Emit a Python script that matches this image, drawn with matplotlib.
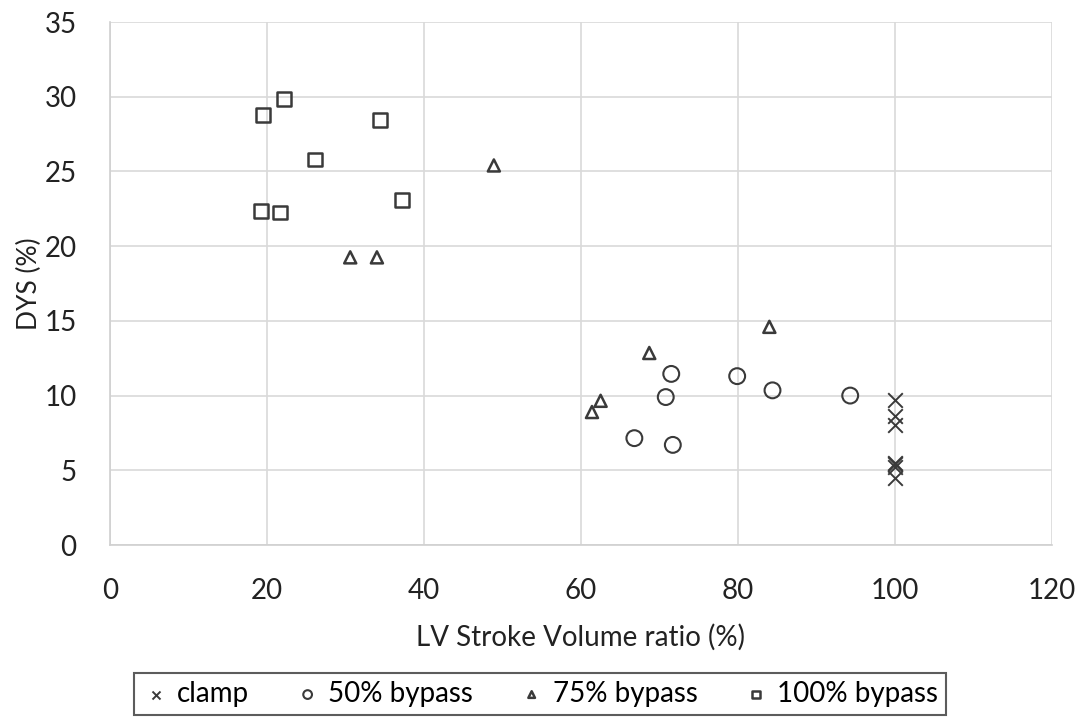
import matplotlib
matplotlib.use("Agg")
import matplotlib.pyplot as plt

plt.rcParams['font.family'] = ['Lato', 'DejaVu Sans']

clamp_x = [100, 100, 100, 100, 100, 100, 100]
clamp_y = [9.7, 8.6, 8.0, 5.5, 5.4, 5.2, 4.5]

bp50_x = [71.5, 79.9, 84.4, 70.8, 94.3, 66.8, 71.7]
bp50_y = [11.45, 11.3, 10.35, 9.9, 10.0, 7.15, 6.7]

bp75_x = [48.9, 30.6, 34.0, 84.0, 68.7, 62.5, 61.4]
bp75_y = [25.4, 19.25, 19.25, 14.6, 12.85, 9.65, 8.9]

bp100_x = [22.2, 19.45, 34.4, 26.1, 37.2, 19.2, 21.7]
bp100_y = [29.85, 28.8, 28.45, 25.8, 23.1, 22.35, 22.25]

x_ticks = [0, 20, 40, 60, 80, 100, 120]
y_ticks = [0, 5, 10, 15, 20, 25, 30, 35]

fig = plt.figure(figsize=(10.8, 7.19), dpi=100)
ax = fig.add_axes([0.1019, 0.242, 0.8721, 0.7274])

ec = '#3a3a3a'
ax.scatter(clamp_x, clamp_y, marker='x', s=110, c=ec, linewidths=1.4, label='clamp', zorder=3)
ax.scatter(bp50_x, bp50_y, marker='o', s=130, facecolors='none', edgecolors=ec, linewidths=1.5, label='50% bypass', zorder=3)
ax.scatter(bp75_x, bp75_y, marker='^', s=75, facecolors='none', edgecolors=ec, linewidths=1.8, label='75% bypass', zorder=3)
ax.scatter(bp100_x, bp100_y, marker='s', s=100, facecolors='none', edgecolors=ec, linewidths=1.8, label='100% bypass', zorder=3)

ax.set_xlim(0, 120)
ax.set_ylim(0, 35)
ax.set_xticks(x_ticks)
ax.set_yticks(y_ticks)
ax.grid(True, color='#d9d9d9', linewidth=1.2, zorder=0)
ax.set_axisbelow(True)
for s in ['top', 'right']:
    ax.spines[s].set_visible(False)
for s in ['left', 'bottom']:
    ax.spines[s].set_color('#d0d0d0')
    ax.spines[s].set_linewidth(1.2)
ax.tick_params(length=0, labelsize=20, colors='#222222')
ax.tick_params(axis='x', pad=24)
ax.tick_params(axis='y', pad=24)

ax.set_xlabel('LV Stroke Volume ratio (%)', fontsize=20, color='#222222', labelpad=14)
ax.set_ylabel('DYS (%)', fontsize=19, color='#222222', labelpad=2)

leg = fig.legend(loc='lower center', bbox_to_anchor=(0.5, -0.014), ncol=4, fontsize=20,
                 markerscale=0.55, frameon=True, fancybox=False, edgecolor='#333333',
                 handletextpad=0.25, columnspacing=1.6, handlelength=1.0, borderpad=0.3)
leg.get_frame().set_linewidth(1.5)

fig.savefig('out.png', dpi=100)
